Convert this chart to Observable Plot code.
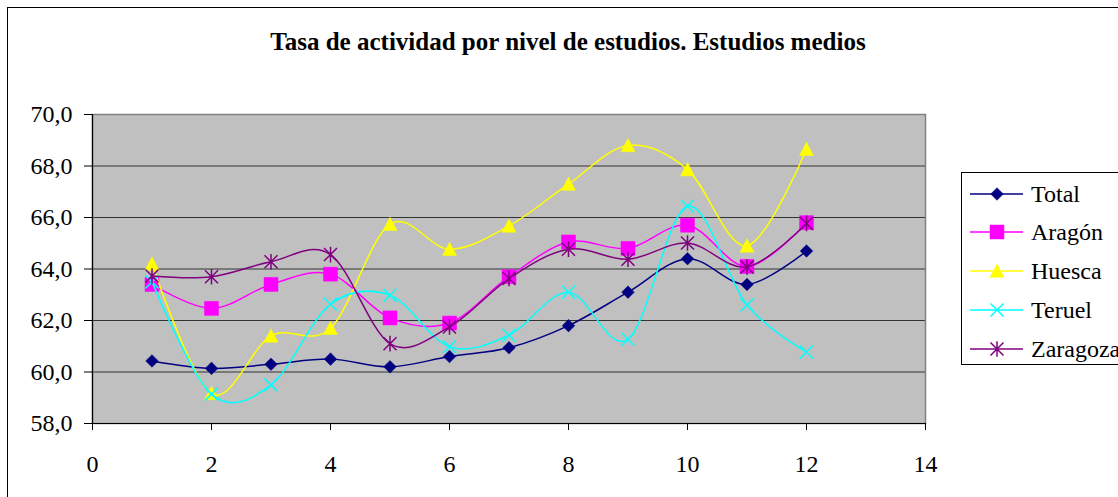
<!DOCTYPE html>
<html lang="es">
<head>
<meta charset="utf-8">
<script src="https://cdn.jsdelivr.net/npm/d3@7"></script>
<script src="https://cdn.jsdelivr.net/npm/@observablehq/plot@0.6"></script>
<style>
  html, body { margin: 0; padding: 0; background: #fff; }
  #wrap { position: relative; width: 1118px; height: 497px; overflow: hidden; background: #fff; }
  #border { position: absolute; left: 7px; top: 7px; width: 1200px; height: 600px; border-left: 1px solid #000; border-top: 1px solid #000; box-sizing: border-box; }
  #title { position: absolute; left: 0; top: 29px; width: 1136px; text-align: center; font-family: "Liberation Serif"; font-weight: bold; font-size: 25px; line-height: 25px; color: #000; white-space: nowrap; }
  #chart { position: absolute; left: 0; top: 0; }
  #legend { position: absolute; left: 961px; top: 172px; width: 200px; height: 193px; border: 1px solid #000; box-sizing: border-box; background: #fff; }
  .item { position: absolute; left: 0; height: 24px; white-space: nowrap; }
  .key { position: absolute; left: 8px; top: 0; }
  .lab { position: absolute; left: 69px; top: 0; font-size: 24px; line-height: 24px; color: #000; white-space: nowrap; }
</style>
</head>
<body>
<div id="wrap">
  <div id="border"></div>
  <div id="title">Tasa de actividad por nivel de estudios. Estudios medios</div>
  <div id="chart"></div>
  <div id="legend"></div>
</div>
<script>
// ---- data ----
const xValues = [1, 2, 3, 4, 5, 6, 7, 8, 9, 10, 11, 12];
const seriesNames = ["Total", "Aragón", "Huesca", "Teruel", "Zaragoza"];
const total    = [60.43, 60.14, 60.3, 60.5, 60.2, 60.6, 60.94, 61.8, 63.1, 64.4, 63.4, 64.7];
const aragon   = [63.4, 62.47, 63.4, 63.8, 62.1, 61.9, 63.7, 65.05, 64.8, 65.7, 64.1, 65.8];
const huesca   = [64.2, 59.17, 61.4, 61.7, 65.74, 64.77, 65.67, 67.3, 68.8, 67.86, 64.9, 68.65];
const teruel   = [63.5, 59.14, 59.5, 62.63, 62.98, 60.98, 61.43, 63.1, 61.27, 66.44, 62.6, 60.78];
const zaragoza = [63.73, 63.7, 64.28, 64.56, 61.1, 61.75, 63.63, 64.77, 64.38, 65.01, 64.08, 65.77];
const yTicks = [58, 60, 62, 64, 66, 68, 70];
const xTicks = [0, 2, 4, 6, 8, 10, 12, 14];

// ---- pick a serif face that really resolves (compared against a sans face) ----
function pickSerif() {
  const ctx = document.createElement("canvas").getContext("2d");
  const sample = "Zaragoza Aragón 70,0 Huesca";
  ctx.font = "400 24px 'Liberation Sans'";
  const sansW = ctx.measureText(sample).width;
  ctx.font = "400 24px monospace";
  const monoW = ctx.measureText(sample).width;
  const candidates = ["Liberation Serif", "Times New Roman", "Tinos", "Times", "Noto Serif", "DejaVu Serif", "serif"];
  for (const f of candidates) {
    ctx.font = `400 24px "${f}"`;
    const w = ctx.measureText(sample).width;
    if (Math.abs(w - sansW) > 1 && Math.abs(w - monoW) > 1) return f;
  }
  return "serif";
}
const font = pickSerif();

// ---- marker shapes ----
const rad = size => Math.sqrt(size / Math.PI);
const symDiamond = { draw(c, s) { const r = rad(s); c.moveTo(0, -r); c.lineTo(r, 0); c.lineTo(0, r); c.lineTo(-r, 0); c.closePath(); } };
const symSquare = { draw(c, s) { const r = rad(s); c.rect(-r, -r, 2 * r, 2 * r); } };
const symTriangle = { draw(c, s) { const r = rad(s); c.moveTo(0, -r); c.lineTo(r, r * 0.9); c.lineTo(-r, r * 0.9); c.closePath(); } };
const symTimes = { draw(c, s) { const r = rad(s); c.moveTo(-r, -r); c.lineTo(r, r); c.moveTo(r, -r); c.lineTo(-r, r); } };
const symStar = { draw(c, s) { const r = rad(s); c.moveTo(-r, -r); c.lineTo(r, r); c.moveTo(r, -r); c.lineTo(-r, r); c.moveTo(0, -r * 1.2); c.lineTo(0, r * 1.2); } };

const seriesValues = [total, aragon, huesca, teruel, zaragoza];
const seriesColors = ["#000080", "#FF00FF", "#FFFF00", "#00FFFF", "#800080"];
const seriesSymbols = [symDiamond, symSquare, symTriangle, symTimes, symStar];
const seriesR = [6.3, 7, 7, 6.5, 6.5];
const seriesFilled = [true, true, true, false, false];

const rows = [];
seriesNames.forEach((name, i) => {
  xValues.forEach((x, j) => rows.push({ series: name, x, y: seriesValues[i][j] }));
});

const fmt = d => d.toFixed(1).replace(".", ",");

const marks = [
  Plot.frame({ fill: "#C0C0C0", stroke: null }),
  Plot.gridY([60, 62, 64, 66, 68], { stroke: "#333", strokeOpacity: 1, strokeWidth: 1 }),
  Plot.frame({ stroke: "#808080", strokeWidth: 1.5 }),
  Plot.ruleX([0], { stroke: "#000", strokeWidth: 1.2 }),
  Plot.ruleY([58], { stroke: "#000", strokeWidth: 1.2 }),
  Plot.axisY({ ticks: yTicks, tickFormat: fmt, tickSize: 8, tickPadding: 12, label: null, fontSize: 24, fontFamily: font, stroke: "#000" }),
  Plot.axisX({ ticks: xTicks, tickFormat: d => String(d), tickSize: 7, tickPadding: 24, label: null, fontSize: 24, fontFamily: font, stroke: "#000" })
];
seriesNames.forEach((name, i) => {
  const d = rows.filter(r => r.series === name);
  marks.push(Plot.line(d, { x: "x", y: "y", stroke: seriesColors[i], strokeWidth: 1.5, curve: "cardinal" }));
  marks.push(Plot.dot(d, {
    x: "x", y: "y", symbol: seriesSymbols[i], r: seriesR[i],
    fill: seriesFilled[i] ? seriesColors[i] : "none",
    stroke: seriesColors[i], strokeWidth: seriesFilled[i] ? 0.5 : 1.5
  }));
});

const chart = Plot.plot({
  width: 1118, height: 497,
  marginLeft: 92, marginRight: 193, marginTop: 114, marginBottom: 74,
  x: { domain: [0, 14] },
  y: { domain: [58, 70] },
  style: { background: "transparent", fontFamily: font, fontSize: "24px", color: "#000", overflow: "visible" },
  marks
});
document.getElementById("chart").appendChild(chart);
chart.querySelectorAll("text").forEach(t => t.style.setProperty("font-family", `"${font}"`, "important"));

// ---- legend (HTML) ----
const legend = document.getElementById("legend");
seriesNames.forEach((name, i) => {
  const item = document.createElement("div");
  item.className = "item";
  item.style.top = (8.7 + i * 38.75) + "px";
  const key = d3.create("svg").attr("class", "key").attr("width", 54).attr("height", 24);
  key.append("line").attr("x1", 0).attr("x2", 53).attr("y1", 12).attr("y2", 12)
    .attr("stroke", seriesColors[i]).attr("stroke-width", 1.5);
  key.append("path").attr("transform", "translate(27,12)")
    .attr("d", d3.symbol(seriesSymbols[i], seriesR[i] * seriesR[i] * Math.PI)())
    .attr("fill", seriesFilled[i] ? seriesColors[i] : "none")
    .attr("stroke", seriesColors[i]).attr("stroke-width", seriesFilled[i] ? 0.5 : 1.5);
  item.appendChild(key.node());
  const label = document.createElement("div");
  label.className = "lab";
  label.style.setProperty("font-family", `"${font}"`, "important");
  label.textContent = name;
  item.appendChild(label);
  legend.appendChild(item);
});
</script>
</body>
</html>
